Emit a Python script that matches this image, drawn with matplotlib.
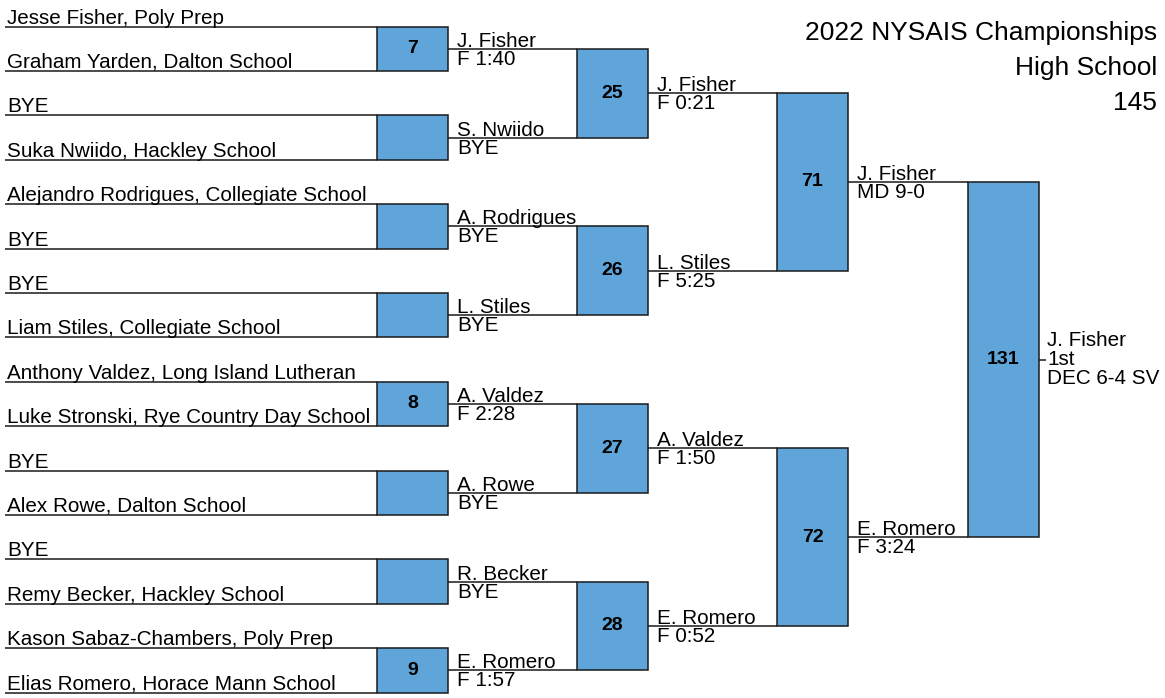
import numpy as np
import matplotlib.pyplot as plt
from matplotlib.patches import Rectangle

plt.rcParams['font.family'] = ['Liberation Sans', 'DejaVu Sans']

title_lines = ["2022 NYSAIS Championships", "High School", "145"]

entrants = [
    "Jesse Fisher, Poly Prep", "Graham Yarden, Dalton School",
    "BYE", "Suka Nwiido, Hackley School",
    "Alejandro Rodrigues, Collegiate School", "BYE",
    "BYE", "Liam Stiles, Collegiate School",
    "Anthony Valdez, Long Island Lutheran", "Luke Stronski, Rye Country Day School",
    "BYE", "Alex Rowe, Dalton School",
    "BYE", "Remy Becker, Hackley School",
    "Kason Sabaz-Chambers, Poly Prep", "Elias Romero, Horace Mann School",
]

r1_bouts = ["7", "", "", "", "8", "", "", "9"]
r1_winners = ["J. Fisher", "S. Nwiido", "A. Rodrigues", "L. Stiles",
              "A. Valdez", "A. Rowe", "R. Becker", "E. Romero"]
r1_results = ["F 1:40", "BYE", "BYE", "BYE", "F 2:28", "BYE", "BYE", "F 1:57"]

r2_bouts = ["25", "26", "27", "28"]
r2_winners = ["J. Fisher", "L. Stiles", "A. Valdez", "E. Romero"]
r2_results = ["F 0:21", "F 5:25", "F 1:50", "F 0:52"]

r3_bouts = ["71", "72"]
r3_winners = ["J. Fisher", "E. Romero"]
r3_results = ["MD 9-0", "F 3:24"]

final_bout = ["131"]
final_winner = ["J. Fisher"]
final_place = "1st"
final_result = ["DEC 6-4 SV"]

rounds = [
    (r1_bouts, r1_winners, r1_results),
    (r2_bouts, r2_winners, r2_results),
    (r3_bouts, r3_winners, r3_results),
    (final_bout, final_winner, final_result),
]

BOX_FILL = "#5FA5D9"
EDGE = "#1a1a1a"
LW = 1.1
FS = 14.9

W, H = 1165, 698
fig = plt.figure(figsize=(W / 100, H / 100), dpi=100)
ax = fig.add_axes([0, 0, 1, 1])
ax.set_xlim(0, W)
ax.set_ylim(H, 0)
ax.axis("off")

# layout in pixel units
top, step = 26.5, 44.4
box_x = [377, 577, 777, 968]
box_w = 71
tail_end = 1046

ys = top + step * np.arange(len(entrants))
for name, y in zip(entrants, ys):
    ax.plot([5, box_x[0]], [y, y], color=EDGE, lw=LW, solid_capstyle="butt")
    ax.text(7, y - 3, name, fontsize=FS, va="baseline", ha="left")

for r, (bouts, winners, results) in enumerate(rounds):
    y_top, y_bot = ys[0::2], ys[1::2]
    x0 = box_x[r]
    x1 = x0 + box_w
    x_next = box_x[r + 1] if r + 1 < len(box_x) else tail_end
    mids = (y_top + y_bot) / 2
    for b, w, res, yt, yb, ym in zip(bouts, winners, results, y_top, y_bot, mids):
        ax.add_patch(Rectangle((x0, yt), box_w, yb - yt, facecolor=BOX_FILL,
                               edgecolor=EDGE, lw=LW, zorder=3))
        if b:
            ax.text(x0 + box_w / 2, ym, b, fontsize=14, fontweight="bold",
                    ha="center", va="center", zorder=4)
        ax.plot([x1, x_next], [ym, ym], color=EDGE, lw=LW, solid_capstyle="butt")
        if r + 1 < len(box_x):
            ax.text(x1 + 9, ym - 2, w, fontsize=FS, va="baseline", ha="left")
            ax.text(x1 + 9, ym + 1, res, fontsize=FS, va="top", ha="left")
        else:
            ax.text(tail_end + 1, ym - 19, w, fontsize=FS, va="center", ha="left")
            ax.text(tail_end + 1, ym, final_place, fontsize=FS, va="center", ha="left")
            ax.text(tail_end + 1, ym + 19, res, fontsize=FS, va="center", ha="left")
    ys = mids

for i, t in enumerate(title_lines):
    ax.text(1157, 33 + 35 * i, t, fontsize=19, ha="right", va="center")

fig.savefig("out.png", dpi=100)
